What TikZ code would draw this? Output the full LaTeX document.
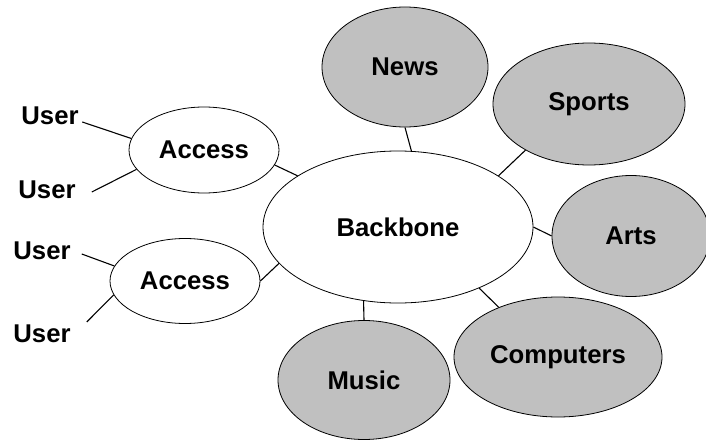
\documentclass[tikz,border=0pt]{standalone}
\usepackage{fontspec}
\setmainfont{Liberation Sans}
\usetikzlibrary{shapes.geometric}
\definecolor{topic}{HTML}{C0C0C0}
\tikzset{
  net/.style={ellipse, draw, line width=0.8pt, inner sep=0pt},
  hub/.style={net, fill=white},
  topicnode/.style={net, fill=topic},
  user/.style={inner sep=0pt},
  link/.style={line width=1.1pt}
}
\begin{document}
\begin{tikzpicture}[x=1pt, y=1pt,
    every node/.style={font=\bfseries\fontsize{25.7}{30}\selectfont}]
      \useasboundingbox (0, 0) rectangle (706, 440);
      % core and access rings
      \node [hub, minimum width=270, minimum height=152] (bb) at (398, 213) {Backbone};
      \node [hub, minimum width=150, minimum height=86] (acc1) at (204, 290) {Access};
      \node [hub, minimum width=150, minimum height=85] (acc2) at (185, 159) {Access};
      % topic servers
      \node [topicnode, minimum width=166, minimum height=120] (news) at (405, 373) {News};
      \node [topicnode, minimum width=192, minimum height=122] (sports) at (589, 336) {Sports};
      \node [topicnode, minimum width=158, minimum height=121] (arts) at (631, 204) {Arts};
      \node [topicnode, minimum width=208, minimum height=120] (comp) at (558, 83) {Computers};
      \node [topicnode, minimum width=172, minimum height=119] (music) at (364, 60) {Music};
      % users
      \node [user] (u1) at (50, 324) {User};
      \node [user] (u2) at (47, 250) {User};
      \node [user] (u3) at (42, 189) {User};
      \node [user] (u4) at (42, 106) {User};
      % links
      \draw [link] (news.-90) -- (bb.80);
      \draw [link] (sports.-144) -- (bb.27);
      \draw [link] (arts.180) -- (bb.0);
      \draw [link] (comp.140) -- (bb.-37);
      \draw [link] (music.90) -- (bb.-115);
      \draw [link] (acc1.-12) -- (bb.153);
      \draw [link] (acc2.0) -- (bb.197);
      \draw [link] ([shift={(3.5, -6)}]u1.east) -- (acc1.171);
      \draw [link] ([shift={(16, -2)}]u2.east) -- (acc1.-164);
      \draw [link] ([shift={(11, -3)}]u3.east) -- (acc2.168);
      \draw [link] ([shift={(16, 12)}]u4.east) -- (acc2.-169);
    \end{tikzpicture}
\end{document}
